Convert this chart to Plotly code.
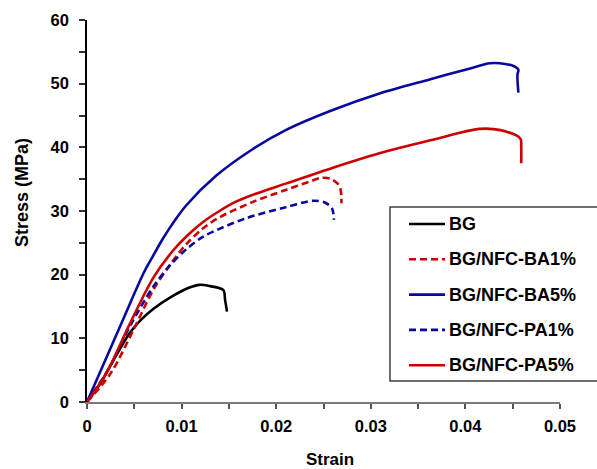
import plotly.graph_objects as go

names = ["BG", "BG/NFC-BA1%", "BG/NFC-BA5%", "BG/NFC-PA1%", "BG/NFC-PA5%"]

bg_x = [0, 0.0014, 0.0024, 0.0045, 0.0057, 0.007, 0.0089, 0.0107, 0.0119, 0.013, 0.0144, 0.0146, 0.0148]
bg_y = [0, 2.9, 5.5, 10.8, 12.9, 14.6, 16.5, 17.9, 18.4, 18.2, 17.6, 16.0, 14.2]

ba1_x = [0, 0.0025, 0.0049, 0.007, 0.0088, 0.0105, 0.0122, 0.014, 0.0175, 0.021, 0.0235, 0.0247, 0.0257, 0.0265, 0.0268, 0.0269]
ba1_y = [0, 4.5, 11.3, 17.6, 21.6, 24.8, 27.2, 29.0, 31.4, 33.3, 34.6, 35.2, 35.1, 34.3, 33.4, 31.2]

ba5_x = [0, 0.002, 0.004, 0.006, 0.007, 0.008, 0.009, 0.0105, 0.0137, 0.0175, 0.021, 0.0257, 0.031, 0.0363, 0.0405, 0.0426, 0.0442, 0.0452, 0.0456, 0.0455, 0.0456]
ba5_y = [0, 6.8, 13.6, 20.3, 23.0, 25.6, 27.9, 30.9, 35.6, 39.7, 42.7, 45.7, 48.5, 50.7, 52.4, 53.2, 53.1, 52.7, 52.2, 51.4, 48.6]

pa1_x = [0, 0.0024, 0.0045, 0.007, 0.0088, 0.0105, 0.0122, 0.014, 0.0169, 0.021, 0.0239, 0.0252, 0.0259, 0.0261]
pa1_y = [0, 5.5, 11.8, 18.1, 21.5, 24.0, 25.9, 27.2, 28.9, 30.6, 31.6, 31.3, 30.4, 28.6]

pa5_x = [0, 0.002, 0.0045, 0.007, 0.0091, 0.0105, 0.0122, 0.014, 0.0158, 0.018, 0.021, 0.026, 0.031, 0.0363, 0.0415, 0.0437, 0.0458, 0.0459, 0.0459]
pa5_y = [0, 4.4, 12.2, 19.5, 23.8, 26.0, 28.2, 30.0, 31.5, 32.8, 34.3, 36.8, 39.1, 41.1, 42.9, 42.7, 41.4, 40.1, 37.5]

BLUE = "#0808A0"
RED = "#CC0000"
DASH = "7px,4px"

series = [
    (bg_x, bg_y, "black", "solid"),
    (ba1_x, ba1_y, RED, DASH),
    (ba5_x, ba5_y, BLUE, "solid"),
    (pa1_x, pa1_y, BLUE, DASH),
    (pa5_x, pa5_y, RED, "solid"),
]

fig = go.Figure()
for name, (xs, ys, col, dash) in zip(names, series):
    fig.add_trace(go.Scatter(
        x=xs, y=ys, mode="lines", name=name, showlegend=False, hoverinfo="skip",
        line=dict(color=col, width=2.6, dash=dash, shape="spline", smoothing=0.9),
    ))

font_family = "Liberation Sans, Arial, sans-serif"

# plot area geometry (pixels) for paper-coordinate conversion
L, R, T, B = 87, 37, 20, 67
W, H = 597, 469
PW, PH = W - L - R, H - T - B


def px(xp):
    return (xp - L) / PW


def py(yp):
    return (H - B - yp) / PH


shapes = []
annotations = []

# legend box
shapes.append(dict(type="rect", xref="paper", yref="paper",
                   x0=px(390), x1=px(610), y0=py(381), y1=py(207),
                   line=dict(color="#404040", width=1.5), fillcolor="white", layer="above"))
for i, (name, (_, _, col, dash)) in enumerate(zip(names, series)):
    yy = 224 + 35.3 * i
    shapes.append(dict(type="line", xref="paper", yref="paper",
                       x0=px(409), x1=px(445), y0=py(yy), y1=py(yy),
                       line=dict(color=col, width=2.6, dash=dash), layer="above"))
    annotations.append(dict(xref="paper", yref="paper", x=px(447), y=py(yy),
                            xanchor="left", yanchor="middle", showarrow=False,
                            text=name, font=dict(size=18, weight="bold", color="black")))

# axis titles
annotations.append(dict(xref="paper", yref="paper", x=px(22), y=py(193),
                        xanchor="center", yanchor="middle", showarrow=False, textangle=-90,
                        text="Stress (MPa)", font=dict(size=18, weight="bold", color="black")))
annotations.append(dict(xref="paper", yref="paper", x=px(330), y=py(459),
                        xanchor="center", yanchor="middle", showarrow=False,
                        text="Strain", font=dict(size=17, weight="bold", color="black")))

fig.update_layout(
    width=W, height=H,
    margin=dict(l=L, r=R, t=T, b=B),
    paper_bgcolor="white", plot_bgcolor="white",
    font=dict(family=font_family, color="black"),
    showlegend=False,
    hovermode=False,
    shapes=shapes,
    annotations=annotations,
    xaxis=dict(
        range=[0, 0.05], dtick=0.01, tick0=0, automargin=False, fixedrange=True,
        showgrid=False, zeroline=False,
        showline=True, linecolor="#7a7a7a", linewidth=1.5,
        ticks="outside", ticklen=5, tickwidth=1.5, tickcolor="#555555",
        minor=dict(dtick=0.005, ticks="outside", ticklen=5, tickwidth=1.5, tickcolor="#555555"),
        tickformat="~g", ticklabelstandoff=3,
        tickfont=dict(size=16.5, weight="bold"),
    ),
    yaxis=dict(
        range=[0, 60], dtick=10, tick0=0, automargin=False, fixedrange=True,
        showgrid=False, zeroline=False,
        showline=True, linecolor="black", linewidth=1.5,
        ticks="outside", ticklen=6, tickwidth=1.5, tickcolor="#333333",
        minor=dict(dtick=5, ticks="outside", ticklen=6, tickwidth=1.5, tickcolor="#333333"),
        ticklabelstandoff=7,
        tickfont=dict(size=16.5, weight="bold"),
    ),
)

fig.write_html("out.html", config={"displayModeBar": False},
               post_script="document.body.style.margin='0';document.body.style.padding='0';")
